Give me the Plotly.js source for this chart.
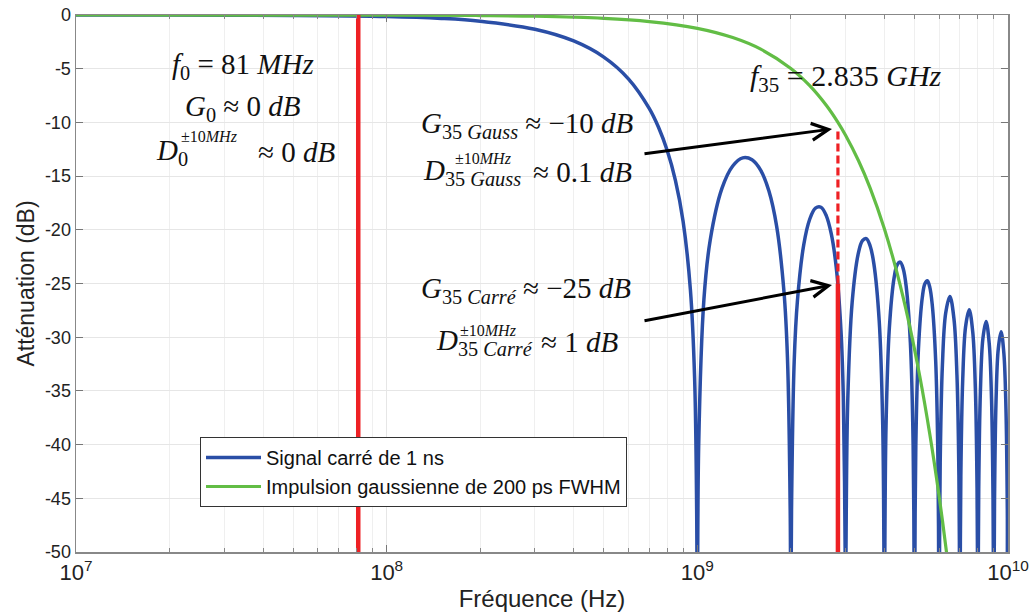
<!DOCTYPE html>
<html>
<head>
<meta charset="utf-8">
<script src="https://cdn.plot.ly/plotly-3.0.1.min.js"></script>
<style>html,body{margin:0;padding:0;background:#fff;}#chart{width:1030px;height:615px;}</style>
</head>
<body>
<div id="chart"></div>
<script>
// ---- Data (frequencies in GHz, attenuation in dB) ----
const seriesNames = ["Signal carré de 1 ns", "Impulsion gaussienne de 200 ps FWHM"];

const mainLobeGHz = [0.01,0.02,0.05,0.1,0.15,0.2,0.3,0.4,0.5,0.6,0.7,0.75,0.8,0.85,0.9,0.95,0.98,0.995,1.0];
const mainLobeDb  = [0,-0.01,-0.04,-0.14,-0.32,-0.58,-1.33,-2.42,-3.92,-5.94,-8.69,-10.45,-12.62,-15.39,-19.23,-25.6,-33.8,-46.0,-60];
const lobe1GHz = [1.01,1.05,1.1,1.2,1.3,1.4,1.5,1.6,1.7,1.8,1.9,1.95,1.99,2.0];
const lobe1Db  = [-40.09,-26.48,-20.97,-16.15,-14.06,-13.30,-13.47,-14.46,-16.39,-19.67,-25.72,-31.85,-45.98,-60];
const lobe2GHz = [2.01,2.05,2.1,2.2,2.3,2.4,2.5,2.6,2.7,2.8,2.9,2.95,2.99,3.0];
const lobe2Db  = [-46.07,-32.29,-26.59,-21.41,-19.02,-17.98,-17.90,-18.68,-20.41,-23.51,-29.39,-35.45,-49.52,-60];
const lobe3GHz = [3.01,3.05,3.15,3.3,3.4,3.5,3.6,3.7,3.85,3.95,3.99,4.0];
const lobe3Db  = [-49.57,-35.74,-26.77,-22.15,-21.01,-20.82,-21.51,-23.15,-28.51,-37.99,-52.02,-60];
const lobe4GHz = [4.01,4.05,4.15,4.3,4.4,4.5,4.6,4.7,4.85,4.95,4.99,5.0];
const lobe4Db  = [-52.07,-38.20,-29.16,-24.45,-23.25,-23.01,-23.63,-25.23,-30.52,-39.95,-53.97,-60];
const lobe5GHz = [5.01,5.05,5.15,5.3,5.4,5.5,5.6,5.7,5.85,5.95,5.99,6.0];
const lobe5Db  = [-54.0,-40.12,-31.04,-26.27,-25.03,-24.75,-25.34,-26.90,-32.15,-41.54,-55.55,-60];
const lobe6GHz = [6.01,6.05,6.15,6.3,6.5,6.7,6.85,6.95,6.99,7.0];
const lobe6Db  = [-55.6,-41.69,-32.58,-27.77,-26.20,-28.30,-33.52,-42.89,-56.9,-60];
const lobe7GHz = [7.01,7.05,7.15,7.3,7.5,7.7,7.85,7.95,7.99,8.0];
const lobe7Db  = [-57,-43.02,-33.89,-29.05,-27.44,-29.51,-34.70,-44.06,-58,-60];
const lobe8GHz = [8.01,8.05,8.15,8.3,8.5,8.7,8.85,8.95,8.99,9.0];
const lobe8Db  = [-58,-44.17,-35.03,-30.16,-28.53,-30.57,-35.74,-45.09,-59,-60];
const lobe9GHz = [9.01,9.05,9.15,9.3,9.5,9.7,9.85,9.95,9.99,10.0];
const lobe9Db  = [-59,-45.19,-36.03,-31.15,-29.50,-31.52,-36.67,-46.01,-60,-60];

const gaussGHz = [0.01,0.1,0.2,0.3,0.5,0.7,1.0,1.3,1.6,2.0,2.3,2.6,2.835,3.0,3.3,3.6,4.0,4.4,4.8,5.2,5.6,6.0,6.4,6.6];
const gaussDb  = [0,-0.01,-0.05,-0.11,-0.31,-0.61,-1.24,-2.10,-3.18,-4.98,-6.58,-8.41,-10.0,-11.20,-13.55,-16.12,-19.90,-24.08,-28.66,-33.64,-39.01,-44.78,-50.95,-54.2];

const f0GHz = 0.081;
const f35GHz = 2.835;
const f0LineDb = [-50, 0];
const f35SolidDb = [-50, -25];
const f35DashDb = [-25, -10.5];

const yTickVals = [-50,-45,-40,-35,-30,-25,-20,-15,-10,-5,0];
const yTickText = ["-50","-45","-40","-35","-30","-25","-20","-15","-10","-5","0"];
const xTickVals = [1e7,1e8,1e9,1e10];
const xTickText = ["10<sup>7</sup>","10<sup>8</sup>","10<sup>9</sup>","10<sup>10</sup>"];

// ---- Build ----
const GHz = v => v * 1e9;
const blueGHz = [].concat(mainLobeGHz, lobe1GHz, lobe2GHz, lobe3GHz, lobe4GHz, lobe5GHz, lobe6GHz, lobe7GHz, lobe8GHz, lobe9GHz);
const blueDb  = [].concat(mainLobeDb, lobe1Db, lobe2Db, lobe3Db, lobe4Db, lobe5Db, lobe6Db, lobe7Db, lobe8Db, lobe9Db);

const BLUE = "#2a4ea6", GREEN = "#62bd45", RED = "#ee2024";

const traces = [
  {x: blueGHz.map(GHz), y: blueDb, name: seriesNames[0], type: "scatter", mode: "lines",
   line: {color: BLUE, width: 3.5, shape: "spline", smoothing: 1}},
  {x: gaussGHz.map(GHz), y: gaussDb, name: seriesNames[1], type: "scatter", mode: "lines",
   line: {color: GREEN, width: 3.2, shape: "spline", smoothing: 1}},
  {x: [GHz(f0GHz), GHz(f0GHz)], y: f0LineDb, mode: "lines", showlegend: false,
   line: {color: RED, width: 4.5}},
  {x: [GHz(f35GHz), GHz(f35GHz)], y: f35SolidDb, mode: "lines", showlegend: false,
   line: {color: RED, width: 4.5}},
  {x: [GHz(f35GHz), GHz(f35GHz)], y: f35DashDb, mode: "lines", showlegend: false,
   line: {color: RED, width: 3.2, dash: "8px,4px"}}
];

// pixel helpers for annotation placement (plot area 76..1008 x 15..552)
const L = 76, R = 1008, T = 15, B = 552;
const px = x => (x - L) / (R - L);
const py = y => (B - y) / (B - T);
const SERIF = "Liberation Serif, Times New Roman, serif";
const serif = {family: SERIF, size: 29, color: "#111"};
const serifBig = {family: SERIF, size: 30, color: "#111"};
const serifSmall = {family: SERIF, size: 16, color: "#111"};

function txt(x, y, text, font, xa) {
  return {xref: "paper", yref: "paper", x: px(x), y: py(y), text: text, showarrow: false,
          font: font || serif, xanchor: xa || "center", yanchor: "middle"};
}
function arrow(hx, hy, tx, ty) {
  return {xref: "paper", yref: "paper", x: px(hx), y: py(hy), ax: tx - hx, ay: ty - hy,
          text: "", showarrow: true, arrowhead: 5, arrowsize: 1.1, arrowwidth: 3,
          arrowcolor: "#000", standoff: 0, startstandoff: 0};
}

const annotations = [
  txt(243, 66, "<i>f</i><sub>0</sub> = 81 <i>MHz</i>"),
  txt(243, 108, "<i>G</i><sub>0</sub> ≈ 0 <i>dB</i>"),
  txt(154, 152, "<i>D</i><sub>0</sub>", serif, "left"),
  txt(179, 136, "±10<i>MHz</i>", serifSmall, "left"),
  txt(256, 152, "≈ 0 <i>dB</i>", serif, "left"),

  txt(846, 78, "<i>f</i><sub>35</sub> = 2.835 <i>GHz</i>", serifBig),

  txt(419, 125, "<i>G</i><sub>35 <i>Gauss</i></sub> ≈ −10 <i>dB</i>", serif, "left"),
  txt(421, 172, "<i>D</i><sub>35 <i>Gauss</i></sub>", serif, "left"),
  txt(453, 158, "±10<i>MHz</i>", serifSmall, "left"),
  txt(531, 172, "≈ 0.1 <i>dB</i>", serif, "left"),

  txt(419, 290, "<i>G</i><sub>35 <i>Carré</i></sub> ≈ −25 <i>dB</i>", serif, "left"),
  txt(434, 342, "<i>D</i><sub>35 <i>Carré</i></sub>", serif, "left"),
  txt(458, 330, "±10<i>MHz</i>", serifSmall, "left"),
  txt(539, 342, "≈ 1 <i>dB</i>", serif, "left"),

  arrow(832, 129, 643, 154),
  arrow(832, 285, 643, 321)
];

const SANS = "Liberation Sans, Arial, sans-serif";
const axisFont = {family: SANS, size: 18, color: "#222"};

const layout = {
  width: 1030, height: 615,
  margin: {l: L, r: 1030 - R, t: T, b: 615 - B},
  paper_bgcolor: "#fff", plot_bgcolor: "#fff",
  showlegend: true,
  legend: {x: px(200), y: py(437), xanchor: "left", yanchor: "top",
           bgcolor: "#fff", bordercolor: "#333", borderwidth: 1,
           font: {family: SANS, size: 20, color: "#111"},
           itemwidth: 55, tracegroupgap: 0},
  xaxis: {type: "log", range: [7, 10], tickmode: "array", tickvals: xTickVals, ticktext: xTickText,
          tickfont: {family: SANS, size: 22, color: "#222"},
          ticks: "inside", ticklen: 7, tickcolor: "#777", showline: true, linecolor: "#888", linewidth: 1.5,
          mirror: "ticks", showgrid: true, gridcolor: "#e6e6e6", gridwidth: 1, zeroline: false,
          minor: {dtick: "D1", ticks: "inside", ticklen: 4, tickcolor: "#888", showgrid: true, gridcolor: "#efefef"},
          title: {text: "Fréquence (Hz)", font: {family: SANS, size: 24, color: "#222"}, standoff: 6}},
  yaxis: {range: [-50, 0], tickmode: "array", tickvals: yTickVals, ticktext: yTickText,
          tickfont: axisFont, ticks: "inside", ticklen: 7, tickcolor: "#777",
          showline: true, linecolor: "#888", linewidth: 1.5, mirror: "ticks",
          showgrid: true, gridcolor: "#e6e6e6", zeroline: false,
          title: {text: "Atténuation (dB)", font: {family: SANS, size: 23, color: "#222"}, standoff: 4}},
  annotations: annotations
};

Plotly.newPlot("chart", traces, layout, {staticPlot: true, displayModeBar: false});
</script>
</body>
</html>
